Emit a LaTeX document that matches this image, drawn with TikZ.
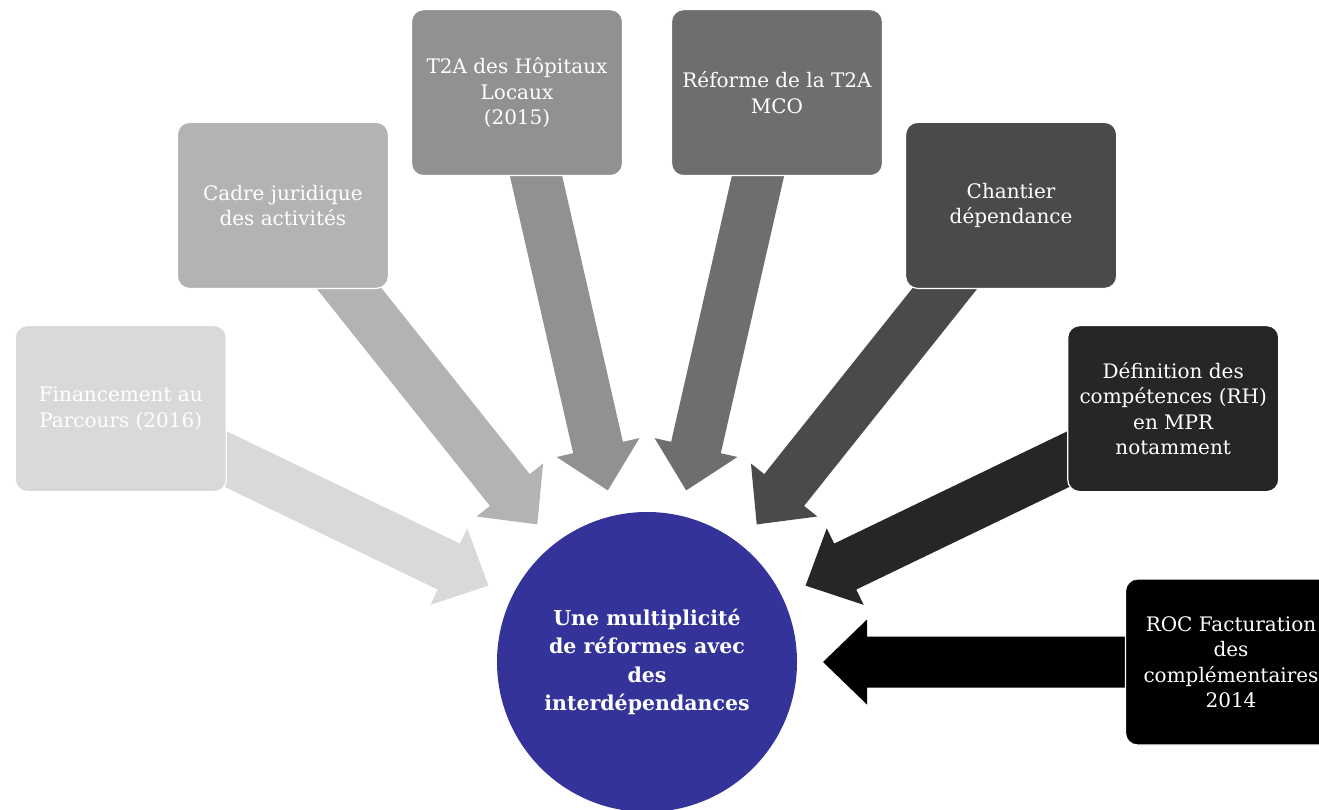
\documentclass[tikz,border=0pt]{standalone}
\usepackage{fontspec}
\setmainfont{DejaVu Serif}
\usetikzlibrary{calc,backgrounds}
\definecolor{gA}{HTML}{D9D9D9}
\definecolor{gB}{HTML}{B3B3B3}
\definecolor{gC}{HTML}{919191}
\definecolor{gD}{HTML}{6E6E6E}
\definecolor{gE}{HTML}{4A4A4A}
\definecolor{gF}{HTML}{262626}
\definecolor{gG}{HTML}{000000}
\definecolor{circ}{HTML}{333399}
\newcommand\radarrow[2]{%
  \path ($(c)!176pt!(#1)$) coordinate (t#1)
        ($(c)!220pt!(#1)$) coordinate (h#1)
        ($(c)!520pt!(#1)$) coordinate (e#1);
  \fill[#2] (t#1)
   -- ($(h#1)!42.5pt!90:(#1)$)
   -- ($(h#1)!25.5pt!90:(#1)$)
   -- ($(e#1)!25.5pt!90:(#1)$)
   -- ($(e#1)!25.5pt!-90:(#1)$)
   -- ($(h#1)!25.5pt!-90:(#1)$)
   -- ($(h#1)!42.5pt!-90:(#1)$) -- cycle;}
\begin{document}
\begin{tikzpicture}[x=1pt,y=-1pt,
  boxst/.style={rectangle, rounded corners=12pt, minimum width=211pt, minimum height=166pt,
    draw=white, line width=1.2pt, text=white, align=center, inner sep=0pt,
    font=\fontsize{20}{25.5}\selectfont},
  hub/.style={circle, fill=circ, minimum size=300pt, inner sep=0pt, text=white, align=center,
    font=\bfseries\fontsize{20.5}{28.5}\selectfont}]
\useasboundingbox (0,0) rectangle (1319,810);
\clip (0,0) rectangle (1319,810);
\node[hub] (c) at (647,662) {Une multiplicité\\de réformes avec\\des\\interdépendances};
\node[boxst, fill=gA] (b6) at (120.8,408.6) {Financement au\\Parcours (2016)};
\node[boxst, fill=gB] (b5) at (282.9,205.4) {Cadre juridique\\des activités};
\node[boxst, fill=gC] (b4) at (517.0,92.6) {T2A des Hôpitaux\\Locaux\\(2015)};
\node[boxst, fill=gD] (b3) at (777.0,92.6) {Réforme de la T2A\\MCO};
\node[boxst, fill=gE] (b2) at (1011.1,205.4) {Chantier\\dépendance};
\node[boxst, fill=gF] (b1) at (1173.2,408.6) {Définition des\\compétences (RH)\\en MPR\\notamment};
\node[boxst, fill=gG] (b0) at (1231,662) {ROC Facturation\\des\\complémentaires\\2014};
\begin{pgfonlayer}{background}
\radarrow{b6}{gA}
\radarrow{b5}{gB}
\radarrow{b4}{gC}
\radarrow{b3}{gD}
\radarrow{b2}{gE}
\radarrow{b1}{gF}
\radarrow{b0}{gG}
\end{pgfonlayer}
\end{tikzpicture}
\end{document}
